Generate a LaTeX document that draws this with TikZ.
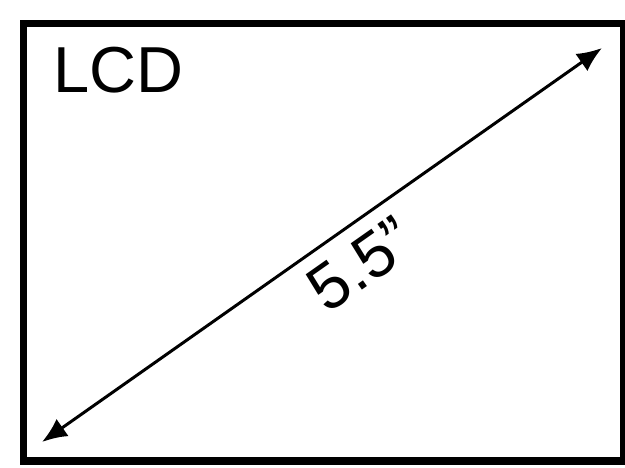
\documentclass[tikz,border=0pt]{standalone}
\usepackage{fontspec}
\setmainfont{Liberation Sans}
\usetikzlibrary{positioning,arrows.meta}

\begin{document}
\begin{tikzpicture}[x=0.02cm, y=-0.02cm,
  screen/.style={draw=black, line width=4pt},
  label/.style={font=\fontsize{37}{40}\selectfont, inner sep=0pt},
  diag/.style={line width=1.7pt, {Latex[length=0.5cm, width=0.42cm]}-{Latex[length=0.5cm, width=0.42cm]}},
]
\useasboundingbox (0,0) rectangle (625,467);
\draw[screen] (23.5,23.5) rectangle (624,461);
\node[label, anchor=north west] (lcd) at (53,47) {LCD};

% diagonal of the panel
\coordinate (lowleft) at (42,442);
\coordinate (upright) at (602,48);
\draw[diag] (lowleft) -- node[label, sloped, below=8pt, pos=0.53] (size) {5.5”} (upright);
\end{tikzpicture}
\end{document}
